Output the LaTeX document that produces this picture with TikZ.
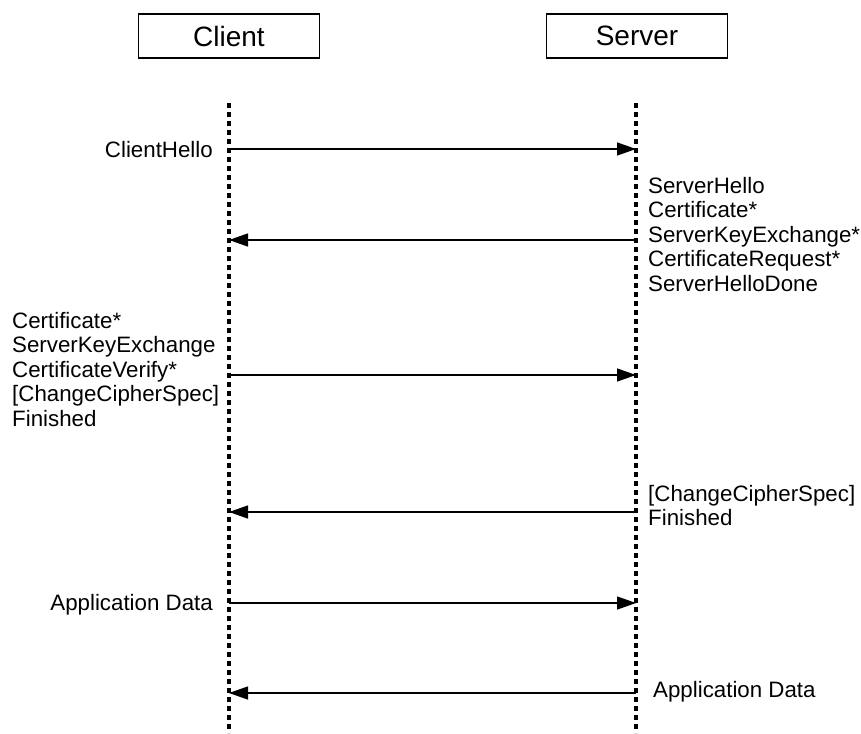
\documentclass[tikz,border=0pt]{standalone}
\usepackage{fontspec}
\setmainfont{Liberation Sans}
\usetikzlibrary{arrows.meta,positioning}

\begin{document}
\begin{tikzpicture}[
  x=1pt, y=-1pt,
  party/.style={draw, line width=1.4pt, minimum width=181pt, minimum height=44pt,
                inner sep=0pt, font=\fontsize{28}{32}\selectfont},
  lifeline/.style={line width=3.2pt, dash pattern=on 5pt off 4pt},
  msg/.style={line width=1.3pt, -{Triangle[length=19pt,width=13pt]}},
  msgtext/.style={inner sep=0pt, font=\fontsize{22.3}{24.5}\selectfont, align=left},
]
\useasboundingbox (0,0) rectangle (861,733);

% --- Parties ---
\node[party] (client) at (229,36) {Client};
\node[party] (server) at (637,36) {Server};

% --- Lifelines ---
\coordinate (ctop) at (229,103);
\coordinate (cbot) at (229,733);
\coordinate (stop) at (636,103);
\coordinate (sbot) at (636,733);
\draw[lifeline] (ctop) -- (cbot);
\draw[lifeline] (stop) -- (sbot);

% message points on both lifelines
\foreach \i/\y in {1/149, 2/240, 3/375, 4/512, 5/603, 6/693} {
  \coordinate (c\i) at (229,\y);
  \coordinate (s\i) at (636,\y);
}

% --- Messages ---
\draw[msg] (c1) -- (s1);
\draw[msg] (s2) -- (c2);
\draw[msg] (c3) -- (s3);
\draw[msg] (s4) -- (c4);
\draw[msg] (c5) -- (s5);
\draw[msg] (s6) -- (c6);

% --- Labels ---
\node[msgtext, anchor=base east] (hello) at (213,157) {ClientHello};
\node[msgtext, anchor=north west] (srvhello) at (648,177)
  {ServerHello\\Certificate*\\ServerKeyExchange*\\CertificateRequest*\\ServerHelloDone};
\node[msgtext, anchor=north west] (clifin) at (12,312)
  {Certificate*\\ServerKeyExchange\\CertificateVerify*\\{[ChangeCipherSpec]}\\Finished};
\node[msgtext, anchor=north west] (srvfin) at (648,485)
  {{[ChangeCipherSpec]}\\Finished};
\node[msgtext, anchor=base east] (cdata) at (213,610) {Application Data};
\node[msgtext, anchor=base west] (sdata) at (653,697) {Application Data};

\end{tikzpicture}
\end{document}
